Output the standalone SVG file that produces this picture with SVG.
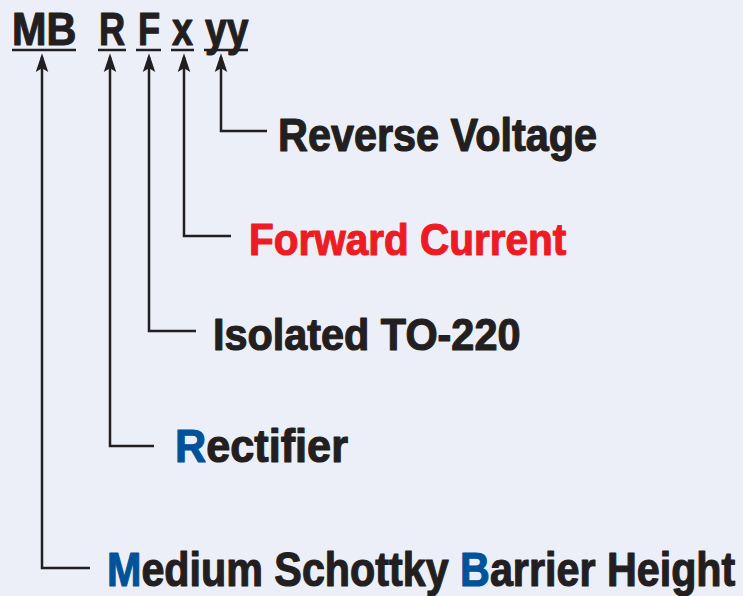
<svg xmlns="http://www.w3.org/2000/svg" width="743" height="596" viewBox="0 0 743 596">
<style>
.t{font-family:"Liberation Sans",Arial,sans-serif;font-weight:bold;fill:#231F20;stroke:#231F20;stroke-width:1.2;stroke-linejoin:round}
.red{fill:#ED1C24;stroke:#ED1C24}
.blue{fill:#00529B;stroke:#00529B}
.ln{fill:none;stroke:#231F20;stroke-width:2.5;marker-start:url(#ah)}
.ul{stroke:#231F20;stroke-width:2.5}
</style>
<defs>
<marker id="ah" markerUnits="userSpaceOnUse" orient="auto-start-reverse" refX="-3" refY="0" markerWidth="20" markerHeight="20" viewBox="-16 -6 16 12" overflow="visible">
<path d="M0,0 L-15,-5 L-12,0 L-15,5 Z" fill="#231F20"/>
</marker>
</defs>
<rect width="743" height="596" fill="#ECEFF7"/>
<g id="code">
<text class="t" font-size="47" transform="translate(12,45) scale(0.88,1)">MB</text>
<text class="t" font-size="47" transform="translate(99,45) scale(0.77,1)">R</text>
<text class="t" font-size="47" transform="translate(138,45) scale(0.77,1)">F</text>
<text class="t" font-size="47" transform="translate(172,45) scale(0.8,1)">x</text>
<text class="t" font-size="47" transform="translate(205,45) scale(0.83,1)">yy</text>
<line class="ul" x1="12" y1="50" x2="76" y2="50"/>
<line class="ul" x1="98" y1="50" x2="126" y2="50"/>
<line class="ul" x1="136" y1="50" x2="161" y2="50"/>
<line class="ul" x1="171" y1="50" x2="194" y2="50"/>
<line class="ul" x1="204" y1="50" x2="248" y2="50"/>
</g>
<g id="connectors">
<path class="ln" d="M221,57 V131 H267"/>
<path class="ln" d="M184,57 V236 H231"/>
<path class="ln" d="M149,57 V331 H196"/>
<path class="ln" d="M110,57 V446 H154"/>
<path class="ln" d="M42,57 V568 H90"/>
</g>
<g id="reverse-voltage">
<text class="t" font-size="46" transform="translate(278,151) scale(0.9,1)">Reverse Voltage</text>
</g>
<g id="forward-current">
<text class="t red" font-size="45" transform="translate(249,255) scale(0.9,1)">Forward Current</text>
</g>
<g id="isolated">
<text class="t" font-size="45" transform="translate(213,350) scale(0.92,1)">Isolated TO-220</text>
</g>
<g id="rectifier">
<text class="t" font-size="47" transform="translate(175,462) scale(0.92,1)"><tspan class="blue">R</tspan>ectifier</text>
</g>
<g id="msbh">
<text class="t" font-size="48" transform="translate(107,586) scale(0.86,1)"><tspan class="blue">M</tspan>edium Schottky <tspan class="blue">B</tspan>arrier Height</text>
</g>
</svg>
